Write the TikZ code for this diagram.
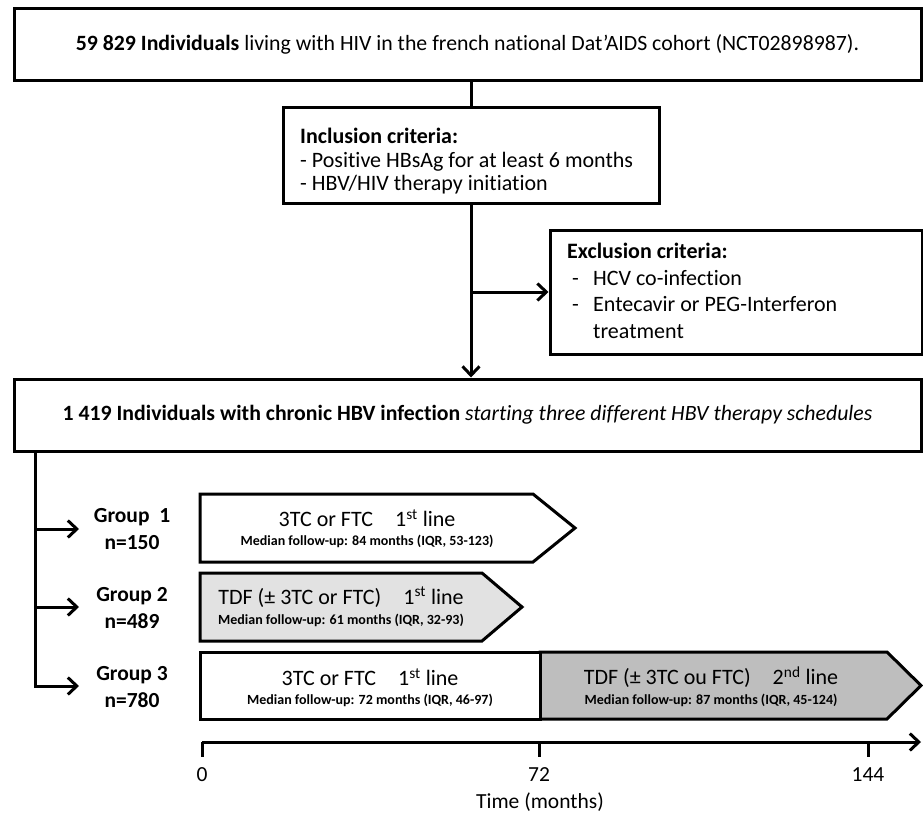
\documentclass[tikz,border=0pt]{standalone}
\usepackage{fontspec}
\setmainfont{Carlito}[Ligatures=NoCommon]
\usetikzlibrary{arrows.meta}
\definecolor{lgray}{HTML}{E2E2E2}
\definecolor{mgray}{HTML}{BEBEBE}
\begin{document}
\begin{tikzpicture}[x=1pt,y=-1pt,line join=miter]
\tikzset{
  box/.style={draw, line width=3pt, inner sep=0pt, fill=white},
  ln/.style={line width=3pt},
  arr/.style={line width=3pt, -{Straight Barb[length=9pt,width=17pt]}},
  big/.style={font=\fontsize{21.8}{26}\selectfont},
  grp/.style={font=\fontsize{21.5}{27}\selectfont\bfseries, align=center, inner sep=0pt},
  maintxt/.style={font=\fontsize{22}{24}\selectfont, inner sep=0pt},
  medtxt/.style={font=\fontsize{14}{16}\selectfont\bfseries, inner sep=0pt},
  axlab/.style={font=\fontsize{21.5}{24}\selectfont, inner sep=0pt},
}
\useasboundingbox (0,0) rectangle (923,814);

% top box
\node[box, big, minimum width=907pt, minimum height=72pt] (top) at (467.5,44)
  {\textbf{59 829 Individuals} living with HIV in the french national Dat’AIDS cohort (NCT02898987).};

% inclusion
\node[box, minimum width=376pt, minimum height=96pt] (inc) at (471,155) {};
\node[anchor=north west, inner sep=0pt, align=left, font=\fontsize{22}{23.5}\selectfont] (inct) at (300,128)
  {\textbf{Inclusion criteria:}\\- Positive HBsAg for at least 6 months\\- HBV/HIV therapy initiation};

% exclusion
\node[box, minimum width=372pt, minimum height=124pt] (exc) at (736,292) {};
\node[anchor=north west, inner sep=0pt, align=left, font=\fontsize{22}{26.5}\selectfont] (exct) at (567,243)
  {\textbf{Exclusion criteria:}\\
   \hspace*{5pt}\makebox[21pt][l]{-}HCV co-infection\\
   \hspace*{5pt}\makebox[21pt][l]{-}Entecavir or PEG-Interferon\\
   \hspace*{26pt}treatment};

% big box
\node[box, big, minimum width=907pt, minimum height=72pt] (bigb) at (467.5,415)
  {\textbf{1 419 Individuals with chronic HBV infection} \textit{starting three different HBV therapy schedules}};

% connectors top part
\draw[ln] (top.south -| inc.north) -- (inc.north);
\draw[arr] (inc.south) -- (inc.south |- bigb.north);
\draw[arr] (inc.south |- exc.west) -- (exc.west);

% groups
\coordinate (lft) at (35,451);
\coordinate (a1) at (79,529);
\coordinate (a2) at (79,607);
\coordinate (a3) at (79,686);
\draw[ln] (lft) -- (lft |- a3) -- ++(-1.5,0);
\draw[arr] (lft |- a1) -- (a1);
\draw[arr] (lft |- a2) -- (a2);
\draw[arr] (lft |- a3) -- (a3);
\node[grp] (g1) at (132,529) {Group\ \ 1\\n=150};
\node[grp] (g2) at (132,608) {Group 2\\n=489};
\node[grp] (g3) at (132,687) {Group 3\\n=780};

% bar 1
\draw[line width=3pt, fill=white] (200,494) -- (533,494) -- (575,528) -- (533,562) -- (200,562) -- cycle;
\node[maintxt] (b1a) at (367,518) {3TC or FTC\quad 1\textsuperscript{st} line};
\node[medtxt] (b1b) at (367,541) {Median follow-up: 84 months (IQR, 53-123)};

% bar 2
\draw[line width=3pt, fill=lgray] (200,573) -- (482,573) -- (522,607) -- (482,641) -- (200,641) -- cycle;
\node[maintxt] (b2a) at (341,597) {TDF (± 3TC or FTC)\quad 1\textsuperscript{st} line};
\node[medtxt] (b2b) at (341,620) {Median follow-up: 61 months (IQR, 32-93)};

% bar 3
\draw[line width=3pt, fill=mgray] (540,652) -- (887,652) -- (921,685.5) -- (887,719) -- (540,719) -- cycle;
\draw[line width=3pt, fill=white] (200,652) rectangle (540,719);
\node[maintxt] (b3a) at (370,677) {3TC or FTC\quad 1\textsuperscript{st} line};
\node[medtxt] (b3b) at (370,700) {Median follow-up: 72 months (IQR, 46-97)};
\node[maintxt] (b4a) at (711,677) {TDF (± 3TC ou FTC)\quad 2\textsuperscript{nd} line};
\node[medtxt] (b4b) at (711,700) {Median follow-up: 87 months (IQR, 45-124)};

% axis
\coordinate (ax0) at (202,742);
\coordinate (axe) at (921,742);
\draw[arr] (ax0) -- (axe);
\draw[ln] (202,742) -- (202,757);
\draw[ln] (539,742) -- (539,757);
\draw[ln] (868,742) -- (868,757);
\node[axlab] (l0) at (202,775) {0};
\node[axlab] (l72) at (539,775) {72};
\node[axlab] (l144) at (868,775) {144};
\node[axlab] (tm) at (540,802) {Time (months)};
\end{tikzpicture}
\end{document}
